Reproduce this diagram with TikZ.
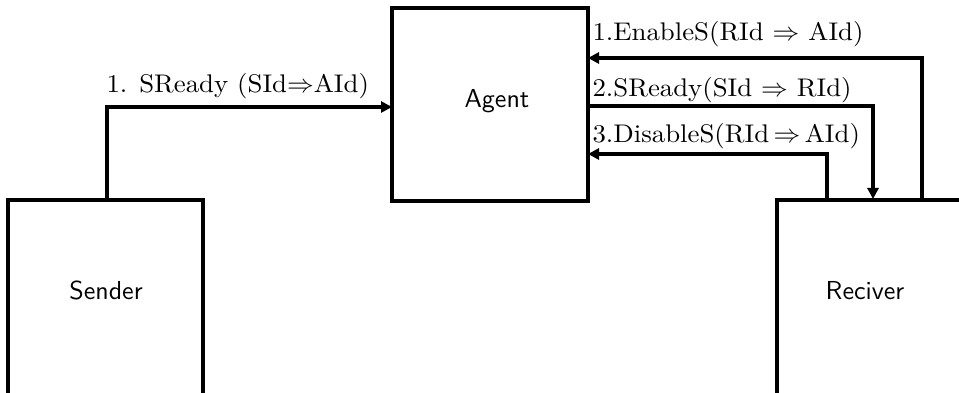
\documentclass[tikz,border=0pt]{standalone}
\usetikzlibrary{arrows.meta}
\begin{document}
\begin{tikzpicture}[x=1pt,y=-1pt,
  box/.style={draw, rectangle, line width=4pt, inner sep=0pt},
  boxtext/.style={font=\sffamily, scale=2.6, anchor=base, inner sep=0pt},
  msg/.style={font=\rmfamily, xscale=2.68, yscale=2.55, anchor=base west, inner sep=0pt},
  conn/.style={line width=4pt},
  arr/.style={conn, -{Triangle[length=11pt,width=11pt]}}]
\useasboundingbox (0,0) rectangle (959,393);
% boxes
\node[box, minimum width=196pt, minimum height=193pt] (agent) at (490,104.5) {};
\node[box, minimum width=195pt, minimum height=210pt] (sender) at (105.5,305) {};
\node[box, minimum width=200pt, minimum height=210pt] (reciver) at (877,305) {};
% box labels
\node[boxtext] (agentlbl) at (497,108) {Agent};
\node[boxtext] (senderlbl) at (106,299) {Sender};
\node[boxtext] (reciverlbl) at (865,299) {Reciver};
% junction coordinates
\coordinate (s0) at (106.5,200);
\coordinate (a0) at (392,107);
\coordinate (r1) at (922,200);
\coordinate (a1) at (588,58);
\coordinate (a2) at (588,106);
\coordinate (r2) at (873,199);
\coordinate (r3) at (827,200);
\coordinate (a3) at (588,154);
% connectors
\draw[arr] (s0) |- (a0);
\draw[arr] (r1) |- (a1);
\draw[arr] (a2) -| (r2);
\draw[arr] (r3) |- (a3);
% messages
\node[msg] (m0) at (106,93) {1. SReady (SId$\Rightarrow$AId)};
\node[msg] (m1) at (592,41) {1.EnableS(RId $\Rightarrow$ AId)};
\node[msg] (m2) at (592,97) {2.SReady(SId $\Rightarrow$ RId)};
\node[msg] (m3) at (592,143) {3.DisableS(RId$\,\Rightarrow\,$AId)};
\end{tikzpicture}
\end{document}
